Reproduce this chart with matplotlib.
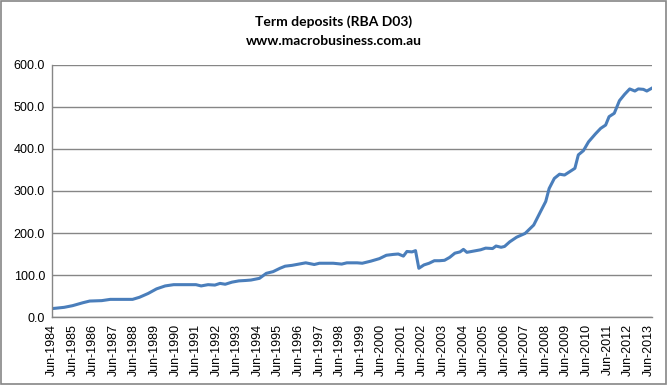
import numpy as np
import pandas as pd
import matplotlib
matplotlib.use('Agg')
import matplotlib.pyplot as plt
import matplotlib.dates as mdates
from matplotlib.patches import Rectangle

# values (A$ bn), month -> level
months = ['1984-06', '1985-01', '1985-06', '1985-12', '1986-04', '1986-11', '1987-04',
          '1988-05', '1988-09', '1989-02', '1989-07', '1989-12', '1990-05', '1991-06',
          '1991-09', '1992-01', '1992-05', '1992-08', '1992-11', '1993-03', '1993-07',
          '1993-11', '1994-02', '1994-07', '1994-11', '1995-03', '1995-07', '1995-10',
          '1996-02', '1996-06', '1996-10', '1997-03', '1997-06', '1998-02', '1998-07',
          '1998-10', '1999-04', '1999-07', '1999-12', '2000-05', '2000-09', '2001-01',
          '2001-04', '2001-07', '2001-09', '2001-12', '2002-02', '2002-04', '2002-07',
          '2002-10', '2003-01', '2003-04', '2003-07', '2003-10', '2004-01', '2004-04',
          '2004-06', '2004-08', '2004-12', '2005-04', '2005-07', '2005-11', '2006-01',
          '2006-04', '2006-06', '2006-09', '2007-01', '2007-06', '2007-11', '2008-03',
          '2008-06', '2008-08', '2008-11', '2009-02', '2009-05', '2009-08', '2009-11',
          '2010-01', '2010-04', '2010-07', '2010-11', '2011-02', '2011-05', '2011-07',
          '2011-10', '2012-01', '2012-04', '2012-07', '2012-10', '2012-12', '2013-03',
          '2013-05', '2013-08']
deposits = [20, 23, 27, 34, 38, 39, 42,
            42, 47, 56, 67, 74, 77, 77,
            74, 77, 76, 80, 78, 83, 86,
            87, 88, 92, 104, 108, 116, 121,
            123, 126, 129, 125, 128, 128, 126,
            129, 129, 128, 133, 139, 147, 149,
            150, 145, 156, 155, 158, 116, 124,
            128, 134, 134, 135, 142, 152, 155,
            161, 154, 157, 160, 164, 163, 169,
            166, 168, 179, 190, 199, 219, 251,
            275, 306, 330, 340, 338, 346, 354,
            386, 396, 417, 436, 449, 457, 477,
            485, 515, 530, 543, 538, 543, 542,
            538, 545]
tick_years = list(range(1984, 2014))
yticks = [0, 100, 200, 300, 400, 500, 600]

dates = pd.to_datetime(months)

fig = plt.figure(figsize=(6.67, 3.85), dpi=100)
ax = fig.add_axes([0.078, 0.1766, 0.8995, 0.6546])

ax.plot(dates, deposits, color='#4A7EBB', linewidth=2.2, solid_joinstyle='round')

ax.set_ylim(0, 600)
ax.set_yticks(yticks)
ax.set_yticklabels([f'{v:.1f}' for v in yticks])
ax.set_xlim(dates[0], dates[-1])

tick_dates = pd.to_datetime([f'{y}-06' for y in tick_years])
ax.set_xticks(tick_dates)
ax.set_xticklabels([d.strftime('Jun-%Y') for d in tick_dates], rotation=90)

ax.grid(axis='y', color='#868686', linewidth=1.0)
ax.set_axisbelow(True)
for s in ['top', 'right']:
    ax.spines[s].set_visible(False)
for s in ['left', 'bottom']:
    ax.spines[s].set_color('#868686')
    ax.spines[s].set_linewidth(1.0)
ax.tick_params(length=0, labelsize=9, colors='black')
ax.tick_params(axis='y', pad=5)
ax.tick_params(axis='x', pad=5)
for lbl in ax.get_xticklabels() + ax.get_yticklabels():
    lbl.set_fontfamily('Liberation Sans')

fig.text(0.5, 0.945, 'Term deposits (RBA D03)', ha='center', va='center',
         fontsize=10, fontweight='bold', family='Lato')
fig.text(0.5, 0.893, 'www.macrobusiness.com.au', ha='center', va='center',
         fontsize=10, fontweight='bold', family='Lato')

fig.patches.append(Rectangle((0.001, 0.002), 0.997, 0.996, transform=fig.transFigure,
                             fill=False, edgecolor='#868686', linewidth=1.2))

fig.savefig('out.png', dpi=100)
